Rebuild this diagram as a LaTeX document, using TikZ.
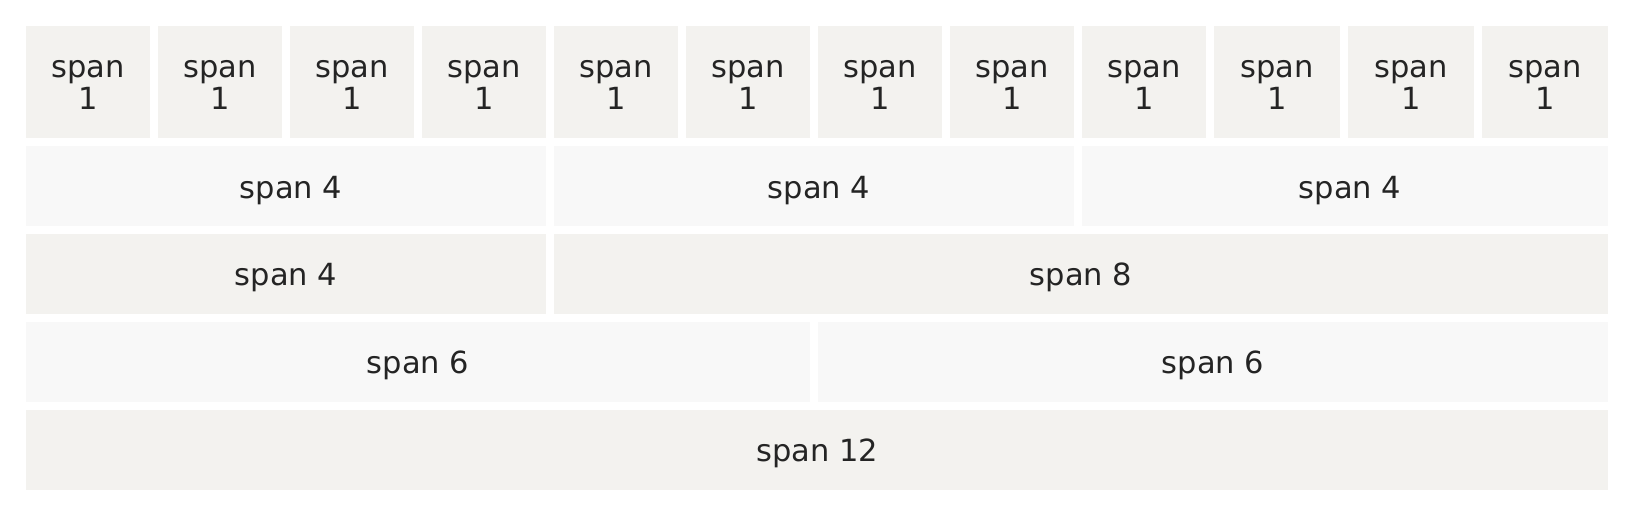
\documentclass[tikz,border=0pt]{standalone}
\usepackage{fontspec}
\setmainfont{DejaVu Sans}
\definecolor{cellA}{HTML}{F3F2EF}
\definecolor{cellB}{HTML}{F8F8F8}
\definecolor{ink}{HTML}{242424}
\newcommand\mytwoline[2]{\vtop{\halign{\hfil##\hfil\cr#1\cr#2\cr}}}
\begin{document}
\begin{tikzpicture}[x=1pt,y=1pt,
  gridcell/.style={inner sep=0pt, outer sep=0pt, anchor=north west, draw=none},
  cellone/.style={gridcell, fill=cellA, minimum height=112pt},
  cellodd/.style={gridcell, fill=cellA, minimum height=80pt},
  celleven/.style={gridcell, fill=cellB, minimum height=80pt},
  lab/.style={anchor=base, inner sep=0pt, outer sep=0pt, text=ink,
    font=\fontsize{30.5}{32.7}\selectfont}]
\fill[white] (0,0) rectangle (1636,-516);
\useasboundingbox (0,0) rectangle (1636,-516);
% row 1: twelve cells of span 1
\foreach \s/\w [count=\i] in {26/124,158/124,290/124,422/124,554/124,686/124,818/124,950/124,1082/124,1214/126,1348/126,1482/126}{
  \node[cellone, minimum width=\w pt] (r1-\i) at (\s,-26) {};
  \node[lab] (l1-\i) at ([yshift=-51.3pt]r1-\i.north) {\mytwoline{span}{1}};
}
% row 2: three cells of span 4
\node[celleven, minimum width=520pt] (r2-1) at (26,-146) {};
\node[celleven, minimum width=520pt] (r2-2) at (554,-146) {};
\node[celleven, minimum width=526pt] (r2-3) at (1082,-146) {};
\foreach \i in {1,2,3}{
  \node[lab] (l2-\i) at ([xshift=5pt,yshift=-52.8pt]r2-\i.north) {span 4};
}
% row 3: span 4 + span 8
\node[cellodd, minimum width=520pt] (r3-1) at (26,-234) {};
\node[cellodd, minimum width=1054pt] (r3-2) at (554,-234) {};
\node[lab] (l3-1) at ([yshift=-51.7pt]r3-1.north) {span 4};
\node[lab] (l3-2) at ([yshift=-51.7pt]r3-2.north) {span 8};
% row 4: span 6 + span 6
\node[celleven, minimum width=784pt] (r4-1) at (26,-322) {};
\node[celleven, minimum width=790pt] (r4-2) at (818,-322) {};
\node[lab] (l4-1) at ([yshift=-51.7pt]r4-1.north) {span 6};
\node[lab] (l4-2) at ([yshift=-51.7pt]r4-2.north) {span 6};
% row 5: span 12
\node[cellodd, minimum width=1582pt] (r5-1) at (26,-410) {};
\node[lab] (l5-1) at ([yshift=-51.7pt]r5-1.north) {span 12};
\end{tikzpicture}
\end{document}
